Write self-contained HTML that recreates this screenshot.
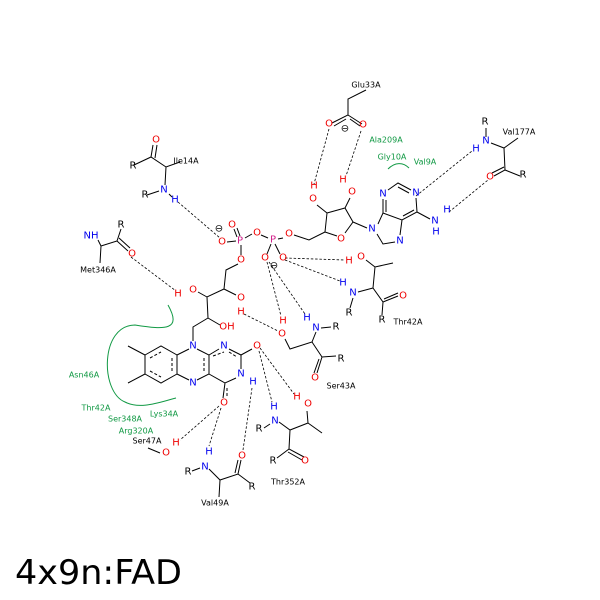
<!DOCTYPE html>
<html><head><meta charset="utf-8"><style>
html,body{margin:0;padding:0;background:#fff;width:600px;height:600px;overflow:hidden}
svg{display:block}
text{font-family:"DejaVu Sans","Liberation Sans",sans-serif}
.a{font-size:10px;text-anchor:middle;dominant-baseline:central}
.r{font-size:8px;text-anchor:middle;dominant-baseline:central;fill:#000}
.g{font-size:8px;text-anchor:middle;dominant-baseline:central;fill:#119944}
.O{fill:#e00}.N{fill:#00e}.P{fill:#d0208a}.H{fill:#00e}
</style></head><body>
<svg width="600" height="600" viewBox="0 0 600 600">
<rect x="0" y="0" width="600" height="600" fill="#fff"/>
<g stroke="#000" stroke-width="1" fill="none">
<path d="M366,90 L348,99 L348,115 L332,123 M348,115 L362,124 M346,119 L334,126 M350,119 L360,126"/>
<path d="M327,213 L345,208 L353,222 L345,233 M337,236 L325,232 L327,213 M327,213 L317,205 M345,208 L350,198 M325,232 L309,240 L294,235 M353,222 L367,228"/>
<path d="M383,213 L383,199 M388,190 L398,183 L411,190 M416,198 L417,212 L402,220 L383,213 L378,224 M402,220 L400,235 M395,242 L383,244 L377,234 M417,212 L430,219 M386,212 L386,200 M403,216 L414,210 M398,187 L409,193"/>
<path d="M283,238 L278,239 M268,238 L261,235 M252,234 L245,238 M236,241 L227,242 M241,245 L241,255 M271,244 L267,254 M275,244 L280,254 M237,237 L234,229 M240,236 L237,228"/>
<path d="M238,264 L226,270 L224,289 L207,297 L198,292 M224,289 L236,295 M207,297 L208,318 L220,325 M208,318 L193,327 L193,341"/>
<path d="M145,355 L161,346 L177,355 L177,374 L161,383 L145,374 Z M177,355 L189,349 M197,349 L209,355 L209,374 L197,380 M189,380 L177,374 M209,355 L219,349 M229,349 L241,355 L252,349 M241,355 L241,369 M236,378 L225,383 L209,374 M225,383 L223,398 M145,355 L128,346 M145,374 L128,383"/>
<path d="M150,358 L161,352 M172,358 L172,371 M150,371 L161,377 M204,358 L204,371 M213,356 L224,352 M229,352 L237,357 M227,388 L227,398" stroke-dasharray="3,2"/>
<path d="M134,165 L151,157 L166,167 L180,162 M151,157 L153,145 M155,158 L157,145 M166,167 L165,185 M147,195 L159,191 M169,194 L172,197"/>
<path d="M98,240 L101,246 L117,241 L121,229 M117,241 L128,251 M119,238 L130,248 M101,246 L100,263"/>
<path d="M486,128 L486,137 M491,143 L504,148 L518,138 M504,148 L505,170 L494,176 M505,170 L520,176 M504,167 L492,173"/>
<path d="M366,260 L375,267 L393,263 M375,267 L373,288 L383,302 L398,296 M384,299 L398,293 M383,302 L382,315 M373,288 L358,292 M353,298 L350,308"/>
<path d="M285,339 L290,349 L312,342 L316,332 M321,328 L331,327 M312,342 L322,357 L336,356 M322,357 L317,373 M319,359 L314,373"/>
<path d="M264,428 L270,424 M279,422 L290,430 L308,423 L307,411 M308,423 L322,433 M290,430 L289,449 L304,457 M288,452 L302,460 M289,449 L277,458"/>
<path d="M192,471 L200,468 M209,469 L220,480 L238,474 L250,483 M220,480 L219,497 M238,474 L241,460 M235,473 L238,460"/>
<path d="M148,448 L160,453"/>
</g>
<g stroke="#000" stroke-width="0.8" fill="none" stroke-dasharray="2.5,1.8">
<path d="M329,129 L314,184 M361,131 L346,176 M178,202 L220,238 M131,257 L176,291 M416,196 L472,151 M449,212 L488,180 M285,258 L345,260 M285,260 L340,281 M267,262 L281,316 M269,262 L305,314 M244,314 L278,331 M260,348 L294,394 M259,351 L272,402 M252,388 L243,450 M221,408 L209,446 M219,406 L180,440"/>
</g>
<g stroke="#119944" stroke-width="1" fill="none">
<path d="M168,305 C182,330 166,330 135,325 C100,325 100,392 125,402 C140,410 160,402 176,398"/>
<path d="M388,169 C395,162 403,162 409,168"/>
</g>
<g>
<text class="a O" x="329" y="124">O</text><text class="a O" x="363" y="125">O</text>
<text class="a" x="345" y="129" font-size="9">⊖</text>
<text class="a O" x="313" y="199">O</text><text class="a O" x="314" y="186">H</text>
<text class="a O" x="352" y="192">O</text><text class="a O" x="343" y="180">H</text>
<text class="a O" x="341" y="239">O</text>
<text class="a O" x="289" y="234">O</text>
<text class="a P" x="273" y="240">P</text>
<text class="a O" x="257" y="233">O</text>
<text class="a P" x="240" y="241">P</text>
<text class="a O" x="222" y="242">O</text>
<text class="a" x="219" y="229" font-size="9">⊖</text>
<text class="a O" x="232" y="225">O</text>
<text class="a O" x="241" y="260">O</text>
<text class="a O" x="265" y="258">O</text><text class="a O" x="283" y="258">O</text>
<text class="a" x="274" y="266" font-size="9">⊖</text>
<text class="a N" x="383" y="194">N</text><text class="a N" x="416" y="193">N</text>
<text class="a N" x="372" y="229">N</text><text class="a N" x="400" y="241">N</text>
<text class="a N" x="435" y="221">N</text><text class="a N" x="447" y="210">H</text><text class="a N" x="436" y="232">H</text>
<text class="a O" x="193" y="290">O</text><text class="a O" x="178" y="294">H</text>
<text class="a O" x="241" y="298">O</text><text class="a O" x="241" y="312">H</text>
<text class="a O" x="227" y="327">OH</text>
<text class="a N" x="193" y="346">N</text><text class="a N" x="193" y="383">N</text>
<text class="a N" x="224" y="346">N</text><text class="a N" x="241" y="374">N</text><text class="a N" x="253" y="382">H</text>
<text class="a O" x="257" y="346">O</text><text class="a O" x="224" y="403">O</text>
<text class="a O" x="156" y="140">O</text><text class="a" x="133" y="166">R</text>
<text class="r" x="186" y="161">Ile14A</text>
<text class="a N" x="164" y="190">N</text><text class="a N" x="175" y="200">H</text><text class="a" x="145" y="195">R</text>
<text class="a N" x="91" y="236">NH</text><text class="a" x="121" y="225">R</text><text class="a O" x="132" y="254">O</text>
<text class="r" x="98" y="270">Met346A</text>
<text class="r" x="366" y="85">Glu33A</text>
<text class="a" x="485" y="122">R</text><text class="a N" x="486" y="141">N</text><text class="a N" x="476" y="149">H</text>
<text class="r" x="519" y="132">Val177A</text>
<text class="a O" x="490" y="177">O</text><text class="a" x="523" y="175">R</text>
<text class="g" x="386" y="140">Ala209A</text><text class="g" x="392" y="157">Gly10A</text><text class="g" x="425" y="162">Val9A</text>
<text class="a O" x="349" y="261">H</text><text class="a O" x="361" y="257">O</text>
<text class="a N" x="343" y="283">H</text><text class="a N" x="353" y="293">N</text><text class="a" x="349" y="313">R</text>
<text class="a O" x="403" y="296">O</text><text class="a" x="382" y="320">R</text>
<text class="r" x="408" y="322">Thr42A</text>
<text class="a O" x="283" y="321">H</text><text class="a O" x="282" y="334">O</text>
<text class="a N" x="307" y="318">H</text><text class="a N" x="316" y="328">N</text><text class="a" x="336" y="327">R</text>
<text class="a" x="341" y="359">R</text><text class="a O" x="315" y="378">O</text>
<text class="r" x="341" y="386">Ser43A</text>
<text class="a O" x="297" y="397">H</text><text class="a O" x="308" y="404">O</text>
<text class="a N" x="274" y="407">H</text><text class="a N" x="275" y="421">N</text><text class="a" x="259" y="429">R</text>
<text class="a O" x="305" y="461">O</text><text class="a" x="273" y="461">R</text>
<text class="r" x="288" y="482">Thr352A</text>
<text class="a N" x="209" y="452">H</text><text class="a N" x="205" y="467">N</text><text class="a" x="188" y="472">R</text>
<text class="a O" x="242" y="456">O</text><text class="a" x="252" y="487">R</text>
<text class="r" x="215" y="503">Val49A</text>
<text class="r" x="147" y="441">Ser47A</text>
<text class="a O" x="166" y="453">O</text><text class="a O" x="176" y="443">H</text>
<text class="g" x="84" y="375">Asn46A</text><text class="g" x="96" y="408">Thr42A</text>
<text class="g" x="164" y="414">Lys34A</text><text class="g" x="125" y="419">Ser348A</text><text class="g" x="136" y="431">Arg320A</text>
</g>
<text x="15" y="584" font-size="34" fill="#000" textLength="167" lengthAdjust="spacingAndGlyphs">4x9n:FAD</text>
</svg>
</body></html>
